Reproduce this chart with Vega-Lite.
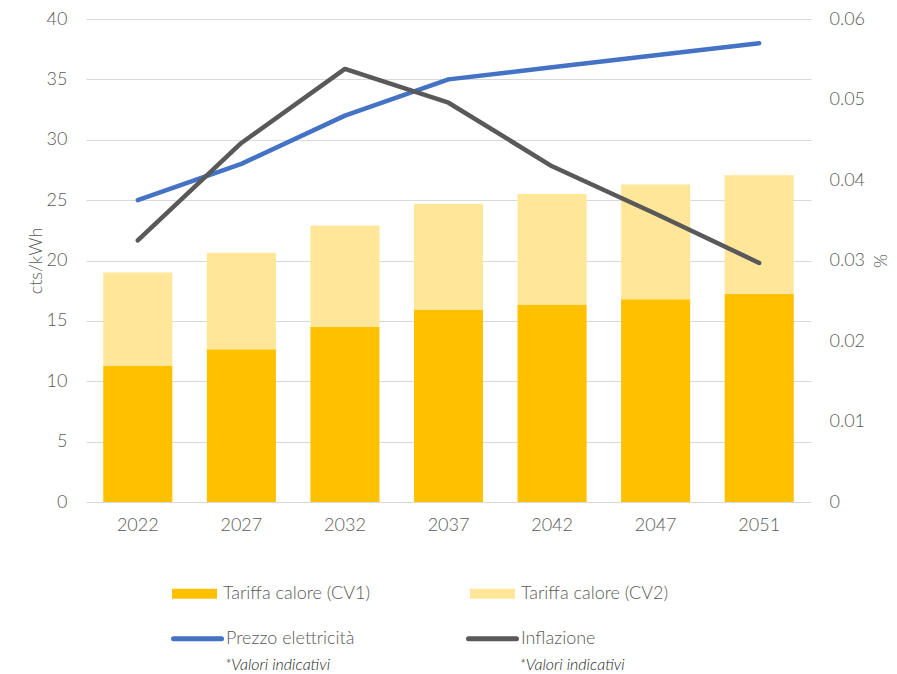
{
  "$schema": "https://vega.github.io/schema/vega-lite/v6.json",
  "width": 725,
  "height": 483,
  "autosize": {"type": "none"},
  "padding": {"left": 86, "top": 19, "right": 86, "bottom": 172},
  "background": "white",
  "config": {
    "font": "Lato",
    "view": {"stroke": null},
    "axis": {"labelFont": "Lato", "labelFontSize": 18, "labelColor": "#595959", "labelFontWeight": 300, "titleFont": "Lato", "titleFontSize": 18, "titleFontWeight": 300, "titleColor": "#595959", "ticks": false, "domain": false},
    "legend": {"labelFont": "Lato", "labelFontSize": 18, "labelFontWeight": 300, "labelColor": "#595959", "padding": 0}
  },
  "title": {
    "text": "*Valori indicativi\u00a0\u00a0\u00a0\u00a0\u00a0\u00a0\u00a0\u00a0\u00a0\u00a0\u00a0\u00a0\u00a0\u00a0\u00a0\u00a0\u00a0\u00a0\u00a0\u00a0\u00a0\u00a0\u00a0\u00a0\u00a0\u00a0\u00a0\u00a0\u00a0\u00a0\u00a0\u00a0\u00a0\u00a0\u00a0\u00a0\u00a0\u00a0\u00a0\u00a0\u00a0\u00a0\u00a0\u00a0\u00a0\u00a0\u00a0*Valori indicativi",
    "orient": "bottom",
    "anchor": "start",
    "frame": "group",
    "dx": 139,
    "offset": 8,
    "font": "Lato",
    "fontSize": 16,
    "fontStyle": "italic",
    "fontWeight": 300,
    "color": "#262626"
  },
  "datasets": {
    "bars": [
      {"anno": "2022", "serie": "Tariffa calore (CV1)", "valore": 11.3, "ordine": 1},
      {"anno": "2022", "serie": "Tariffa calore (CV2)", "valore": 7.7, "ordine": 2},
      {"anno": "2027", "serie": "Tariffa calore (CV1)", "valore": 12.65, "ordine": 1},
      {"anno": "2027", "serie": "Tariffa calore (CV2)", "valore": 8.0, "ordine": 2},
      {"anno": "2032", "serie": "Tariffa calore (CV1)", "valore": 14.5, "ordine": 1},
      {"anno": "2032", "serie": "Tariffa calore (CV2)", "valore": 8.4, "ordine": 2},
      {"anno": "2037", "serie": "Tariffa calore (CV1)", "valore": 15.9, "ordine": 1},
      {"anno": "2037", "serie": "Tariffa calore (CV2)", "valore": 8.8, "ordine": 2},
      {"anno": "2042", "serie": "Tariffa calore (CV1)", "valore": 16.35, "ordine": 1},
      {"anno": "2042", "serie": "Tariffa calore (CV2)", "valore": 9.15, "ordine": 2},
      {"anno": "2047", "serie": "Tariffa calore (CV1)", "valore": 16.8, "ordine": 1},
      {"anno": "2047", "serie": "Tariffa calore (CV2)", "valore": 9.5, "ordine": 2},
      {"anno": "2051", "serie": "Tariffa calore (CV1)", "valore": 17.25, "ordine": 1},
      {"anno": "2051", "serie": "Tariffa calore (CV2)", "valore": 9.8, "ordine": 2}
    ],
    "linee": [
      {"anno": "2022", "prezzo": 25, "inflazione": 0.0325},
      {"anno": "2027", "prezzo": 28, "inflazione": 0.0446},
      {"anno": "2032", "prezzo": 32, "inflazione": 0.0538},
      {"anno": "2037", "prezzo": 35, "inflazione": 0.0496},
      {"anno": "2042", "prezzo": 36, "inflazione": 0.0417},
      {"anno": "2047", "prezzo": 37, "inflazione": 0.0358},
      {"anno": "2051", "prezzo": 38, "inflazione": 0.0297}
    ]
  },
  "encoding": {
    "x": {
      "field": "anno", "type": "ordinal",
      "scale": {"paddingInner": 0.333, "paddingOuter": 0.1667},
      "axis": {"title": null, "labelAngle": 0, "labelPadding": 14, "grid": false}
    }
  },
  "layer": [
    {
      "layer": [
        {
          "data": {"name": "bars"},
          "mark": {"type": "bar"},
          "encoding": {
            "y": {
              "field": "valore", "type": "quantitative", "stack": "zero",
              "scale": {"domain": [0, 40]},
              "axis": {"title": "cts/kWh", "values": [0, 5, 10, 15, 20, 25, 30, 35, 40], "grid": true, "gridColor": "#d9d9d9", "gridWidth": 1.2, "labelPadding": 19, "titlePadding": 1, "labelColor": "#595959"}
            },
            "fill": {
              "field": "serie", "type": "nominal",
              "scale": {"domain": ["Tariffa calore (CV1)", "Tariffa calore (CV2)"], "range": ["#FFC000", "#FFE699"]},
              "legend": {"title": null, "orient": "none", "legendX": 86, "legendY": 552, "direction": "horizontal", "columns": 2, "symbolType": "M-1,-0.22H1V0.22H-1Z", "symbolSize": 2025, "symbolStrokeWidth": 0, "labelOffset": 6, "columnPadding": 99}
            },
            "order": {"field": "ordine", "type": "quantitative"}
          }
        },
        {
          "data": {"name": "linee"},
          "mark": {"type": "line", "strokeWidth": 4.5, "strokeCap": "round", "strokeJoin": "round"},
          "encoding": {
            "y": {
              "field": "prezzo", "type": "quantitative",
              "scale": {"domain": [0, 40]},
              "axis": {"title": "cts/kWh", "values": [0, 5, 10, 15, 20, 25, 30, 35, 40], "grid": true, "gridColor": "#d9d9d9", "gridWidth": 1.2, "labelPadding": 19, "titlePadding": 1, "labelColor": "#595959"}
            },
            "stroke": {
              "datum": "Prezzo elettricità", "type": "nominal",
              "scale": {"domain": ["Prezzo elettricità", "Inflazione"], "range": ["#4472C4", "#595959"]},
              "legend": {"title": null, "orient": "none", "legendX": 85, "legendY": 593, "direction": "horizontal", "columns": 2, "symbolType": "stroke", "symbolSize": 2304, "symbolStrokeWidth": 5, "labelOffset": 2, "columnPadding": 103, "encode": {"symbols": {"update": {"strokeCap": {"value": "round"}}}}}
            }
          }
        }
      ]
    },
    {
      "data": {"name": "linee"},
      "mark": {"type": "line", "strokeWidth": 4.5, "strokeCap": "round", "strokeJoin": "round"},
      "encoding": {
        "y": {
          "field": "inflazione", "type": "quantitative",
          "scale": {"domain": [0, 0.06]},
          "axis": {"title": "%", "orient": "right", "values": [0, 0.01, 0.02, 0.03, 0.04, 0.05, 0.06], "format": "~g", "grid": false, "labelPadding": 18, "titlePadding": 5}
        },
        "stroke": {"datum": "Inflazione", "type": "nominal"}
      }
    }
  ],
  "resolve": {"scale": {"y": "independent"}}
}
